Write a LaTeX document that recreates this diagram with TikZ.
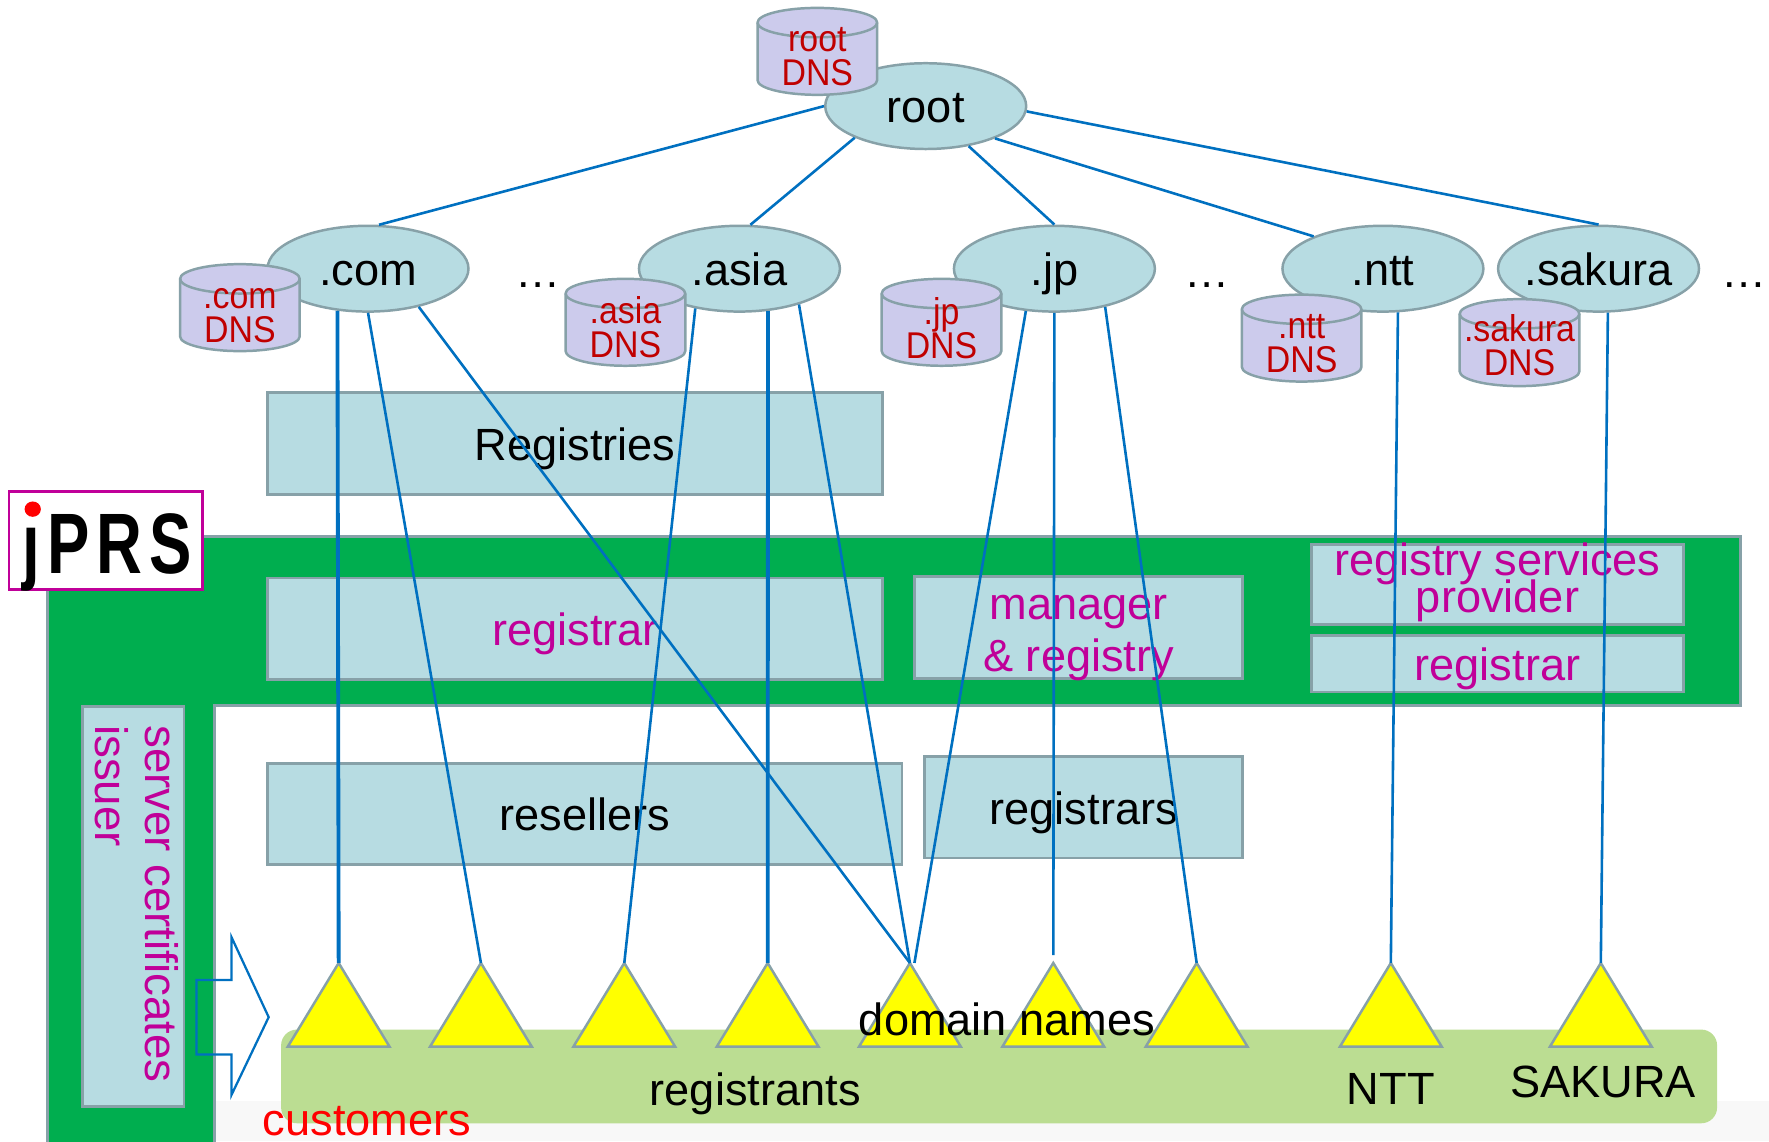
\documentclass[tikz,border=0pt]{standalone}
\usepackage{fontspec}
\setmainfont{Liberation Sans}
\usetikzlibrary{shapes.geometric}
\definecolor{boxfill}{HTML}{B7DCE2}
\definecolor{edgegray}{HTML}{87A1A8}
\definecolor{cylfill}{HTML}{CCCBEC}
\definecolor{dnsred}{HTML}{C00000}
\definecolor{mag}{HTML}{C00099}
\definecolor{jgreen}{HTML}{00AE4F}
\definecolor{lineblue}{HTML}{0070C0}
\definecolor{regfill}{HTML}{BBDD92}
\definecolor{floorgray}{HTML}{F8F8F8}
\definecolor{triyellow}{RGB}{255,255,0}
\definecolor{brightred}{RGB}{255,0,0}
\tikzset{
  x=0.5pt,y=-0.5pt,
  big/.style={font=\fontsize{20}{23}\selectfont},
  zone/.style={ellipse,draw=edgegray,fill=boxfill,line width=1.1pt,minimum width=89pt,minimum height=38pt,inner sep=-8pt,big,text height=15pt,text depth=0.5pt},
  dnscan/.style={draw=edgegray,fill=cylfill,line width=1.1pt},
  dnstext/.style={inner sep=0pt,text=dnsred,align=center,yscale=1.1,font=\fontsize{15}{13.7}\selectfont},
  band/.style={rectangle,draw=edgegray,fill=boxfill,line width=1.3pt,inner sep=0pt,align=center,big},
  oneline/.style={text height=16pt,text depth=1pt},
  magband/.style={band,text=mag},
  label/.style={inner sep=0pt,big,text height=15pt,text depth=0.5pt},
  link/.style={draw=lineblue,line width=1.15pt},
  thick link/.style={draw=lineblue,line width=1.7pt},
  nametri/.style={draw=edgegray,fill=triyellow,line width=1.1pt,line join=miter},
}
\newcommand{\tightlines}{\lineskiplimit=-20pt\relax}
% #1 centre x, #2 top y of a 106 x 77 database can
\newcommand{\dnsbody}[2]{%
  \path[dnscan] (#1-53,#2+13) arc[start angle=180,end angle=0,x radius=26.5pt,y radius=6.5pt]
    -- (#1+53,#2+64) arc[start angle=0,end angle=-180,x radius=26.5pt,y radius=6.5pt] -- cycle;
  \draw[edgegray,line width=1.1pt] (#1-53,#2+13) arc[start angle=180,end angle=360,x radius=26.5pt,y radius=6.5pt];
}
\begin{document}
\begin{tikzpicture}
\useasboundingbox (0,0) rectangle (1567,1011);
% backdrop
\fill[floorgray] (190,975) rectangle (1567,1011);
\path[draw=edgegray,fill=jgreen,line width=1.2pt] (42,1013) -- (42,475) -- (1542,475) -- (1542,625) -- (190,625) -- (190,1013);
\fill[regfill,rounded corners=7pt] (249,912) rectangle (1521,995);
% logo
\node[rectangle,draw=mag,fill=white,line width=1.3pt,minimum width=85.5pt,minimum height=43.5pt,inner sep=0pt] (logo) at (93.5,478.5) {};
\node[inner sep=0pt,font=\fontsize{38}{38}\selectfont\bfseries\addfontfeature{LetterSpace=11},xscale=0.74] (logotext) at (95,489) {\symbol{"0237}PRS};
\fill[brightred] (29,451) ellipse (3.6pt and 3.4pt);
% boxes
\node[band,oneline,minimum width=272.5pt,minimum height=45pt] (registries) at (509.5,393) {Registries};
\node[magband,oneline,minimum width=272.5pt,minimum height=45pt] (registrarA) at (509.5,557) {registrar};
\node[magband,minimum width=145.5pt,minimum height=45pt,font=\fontsize{20}{23}\selectfont,text height=38.5pt,text depth=0pt] (manager) at (955.5,556) {manager\\\& registry};
\node[magband,minimum width=164.5pt,minimum height=35.5pt,inner ysep=-5pt,font={\fontsize{20}{16.5}\selectfont\tightlines},text height=32.4pt,text depth=7.4pt] (rsp) at (1326.5,517.5) {registry services\\provider};
\node[magband,oneline,minimum width=164.5pt,minimum height=25pt] (registrarB) at (1326.5,588) {registrar};
\node[band,oneline,minimum width=281pt,minimum height=45pt] (resellers) at (518,721) {resellers};
\node[band,oneline,minimum width=141pt,minimum height=45pt] (registrars) at (960,715) {registrars};
\node[band,minimum width=45pt,minimum height=177pt] (certbox) at (118,803) {};
\node[inner sep=0pt,rotate=-90,anchor=north west,align=left,text=mag,font=\fontsize{20.2}{22.5}\selectfont] (certtext) at (159,642) {server certificates\\issuer};
% arrow
\coordinate (arrowtip) at (238,901);
\draw[lineblue,line width=1pt] (arrowtip) -- (205,830) -- (205,868) -- (174,868) -- (174,934) -- (205,934) -- (205,970) -- cycle;
% zones
\node[zone] (root) at (820,94) {root};
\node[zone] (com) at (326,238) {.com};
\node[zone] (asia) at (655,238) {.asia};
\node[zone] (jp) at (934,238) {.jp};
\node[zone] (ntt) at (1225,238) {.ntt};
\node[zone] (sakura) at (1416,238) {.sakura};
% triangles
\foreach \n/\x in {t1/300,t2/426,t3/553,t4/680,t5/806,t6/933,t7/1060,t8/1232,t9/1418}{
  \coordinate (\n) at (\x,853);
  \path[nametri] (\n) -- ++(45,74) -- ++(-90,0) -- cycle;
}
% connectors
\draw[link] (root.180) -- (com.76);
\draw[link] (root.204) -- (asia.76);
\draw[link] (root.317) -- (jp.90);
\draw[link] (root.335) -- (ntt.155);
\draw[link] (root.357) -- (sakura.90);
\draw[thick link] (com.234) -- (t1);
\draw[link] (com.270) -- (t2);
\draw[link] (com.323) -- (t5);
\draw[link] (asia.222) -- (t3);
\draw[thick link] (asia.304) -- (t4);
\draw[link] (asia.329) -- (t5);
\draw[link] (jp.236) -- ([xshift=2pt]t5);
\draw[link,shorten >=3.5pt] (jp.270) -- (t6);
\draw[link] (jp.323) -- (t7);
\draw[link] (ntt.289) -- (t8);
\draw[link] (sakura.282) -- (t9);
% cylinders
\dnsbody{724}{7}
\node[dnstext] (rootdnstext) at (724,50) {root\\DNS};
\dnsbody{212.5}{234}
\node[dnstext] (comdnstext) at (212.5,280) {.com\\DNS};
\dnsbody{554}{247}
\node[dnstext] (asiadnstext) at (554,290) {.asia\\DNS};
\dnsbody{834}{247}
\node[dnstext] (jpdnstext) at (834,291) {.jp\\DNS};
\dnsbody{1153}{261}
\node[dnstext] (nttdnstext) at (1153,304) {.ntt\\DNS};
\dnsbody{1346}{265}
\node[dnstext] (sakuradnstext) at (1346,306) {.sakura\\DNS};
% free labels
\node[label] (dotsA) at (477,240) {\dots};
\node[label] (dotsB) at (1069,240) {\dots};
\node[label] (dotsC) at (1545,240) {\dots};
\node[label] (domainnames) at (892,902.5) {domain names};
\node[label] (registrants) at (669,964.5) {registrants};
\node[label] (nttname) at (1232,964) {NTT};
\node[label] (sakuraname) at (1420,958) {SAKURA};
\node[label,text=brightred] (customers) at (325,991) {customers};
\end{tikzpicture}
\end{document}
